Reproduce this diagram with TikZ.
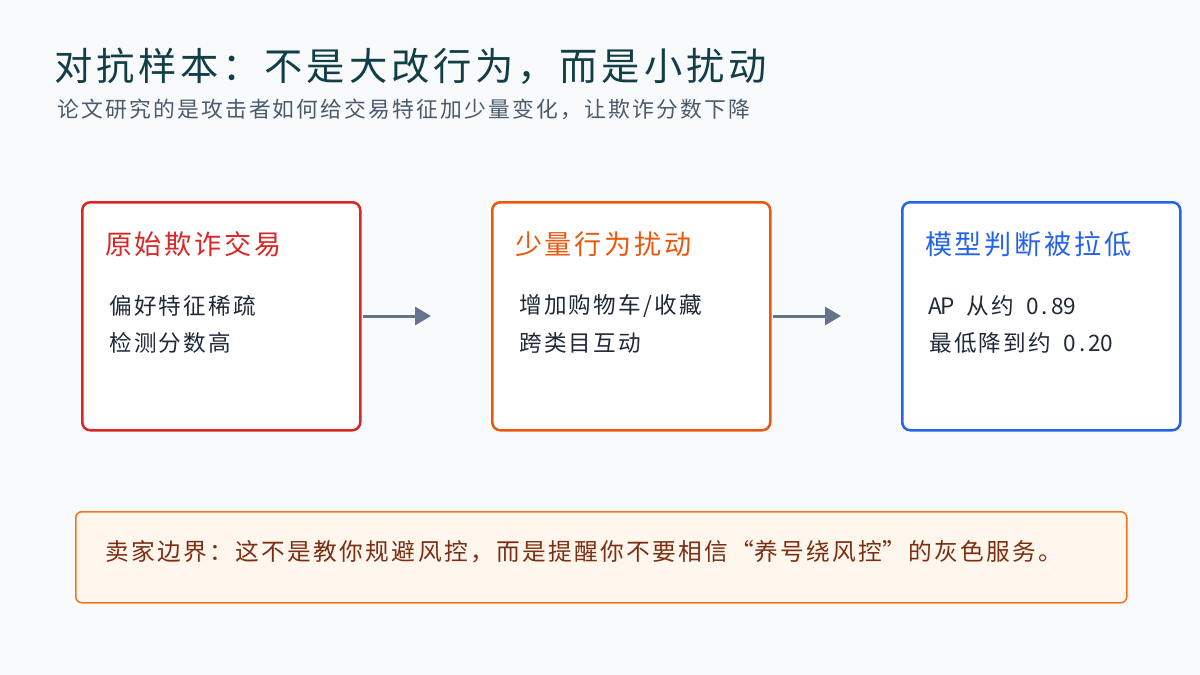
\documentclass[tikz,border=0pt]{standalone}
\usepackage{fontspec}
\setmainfont{Noto Sans CJK SC}
\newfontfamily\spfont[LetterSpace=10]{Noto Sans CJK SC}
\usetikzlibrary{arrows.meta}
\definecolor{bg}{HTML}{F8FAFC}
\definecolor{titlec}{HTML}{123E48}
\definecolor{subc}{HTML}{4B5B6B}
\definecolor{redc}{HTML}{DC2626}
\definecolor{orangec}{HTML}{EA580C}
\definecolor{bluec}{HTML}{2563EB}
\definecolor{bodyc}{HTML}{1F2937}
\definecolor{arrowc}{HTML}{64748B}
\definecolor{notefill}{HTML}{FFF7ED}
\definecolor{noteline}{HTML}{F97316}
\definecolor{notetext}{HTML}{7C2D12}
\newcommand\hwc[1]{\makebox[0.55em][c]{#1}}
\newcommand\myopenq{\makebox[1.1em][r]{“}}
\newcommand\mycloseq{\makebox[1.1em][l]{”}}
\begin{document}
\begin{tikzpicture}[x=1pt,y=-1pt,
  card/.style={draw=#1, line width=2.5pt, fill=white, rounded corners=8pt, minimum width=278pt, minimum height=228pt, anchor=north west, inner sep=0pt},
  cardtitle/.style={text=#1, font=\spfont\fontsize{27.1}{30}\selectfont, anchor=west, inner sep=0pt},
  cardbody/.style={text=bodyc, font=\spfont\fontsize{22.6}{26}\selectfont, anchor=west, inner sep=0pt},
  flow/.style={draw=arrowc, line width=3pt, -{Triangle[length=16pt,width=18pt]}}
]
\fill[bg] (0,0) rectangle (1200,675);
\useasboundingbox (0,0) rectangle (1200,675);

\node[anchor=west, inner sep=0pt, text=titlec, font=\spfont\fontsize{38.3}{44}\selectfont] (title) at (54,66) {对抗样本：不是大改行为，而是小扰动};
\node[anchor=west, inner sep=0pt, text=subc, font=\spfont\fontsize{21.8}{26}\selectfont] (sub) at (57,109) {论文研究的是攻击者如何给交易特征加少量变化，让欺诈分数下降};

\node[card=redc] (b1) at (81,201) {};
\node[card=orangec] (b2) at (491,201) {};
\node[card=bluec] (b3) at (901,201) {};

\node[cardtitle=redc] (t1) at (105,244) {原始欺诈交易};
\node[cardbody] (l1a) at (109,306) {偏好特征稀疏};
\node[cardbody] (l1b) at (109,343) {检测分数高};

\node[cardtitle=orangec] (t2) at (515,244) {少量行为扰动};
\node[cardbody] (l2a) at (519,306) {增加购物车/收藏};
\node[cardbody] (l2b) at (519,343) {跨类目互动};

\node[cardtitle=bluec] (t3) at (925,244) {模型判断被拉低};
\node[cardbody] (l3a) at (929,306) {\hwc{A}\hwc{P}\hwc{ }从约\hwc{ }\hwc{0}\hwc{.}\hwc{8}\hwc{9}};
\node[cardbody] (l3b) at (929,343) {最低降到约\hwc{ }\hwc{0}\hwc{.}\hwc{2}\hwc{0}};

\draw[flow, shorten <=1pt, shorten >=60pt] (b1.east |- 0,316) -- (b2.west |- 0,316);
\draw[flow, shorten <=1pt, shorten >=60pt] (b2.east |- 0,316) -- (b3.west |- 0,316);

\node[draw=noteline, line width=1.5pt, fill=notefill, rounded corners=6pt, minimum width=1051pt, minimum height=91pt, anchor=north west, inner sep=0pt] (note) at (75,511) {};
\node[anchor=west, inner sep=0pt, text=notetext, font=\spfont\fontsize{23.7}{27}\selectfont] (notet) at (105,552) {卖家边界：这不是教你规避风控，而是提醒你不要相信\myopenq 养号绕风控\mycloseq 的灰色服务。};
\end{tikzpicture}
\end{document}
